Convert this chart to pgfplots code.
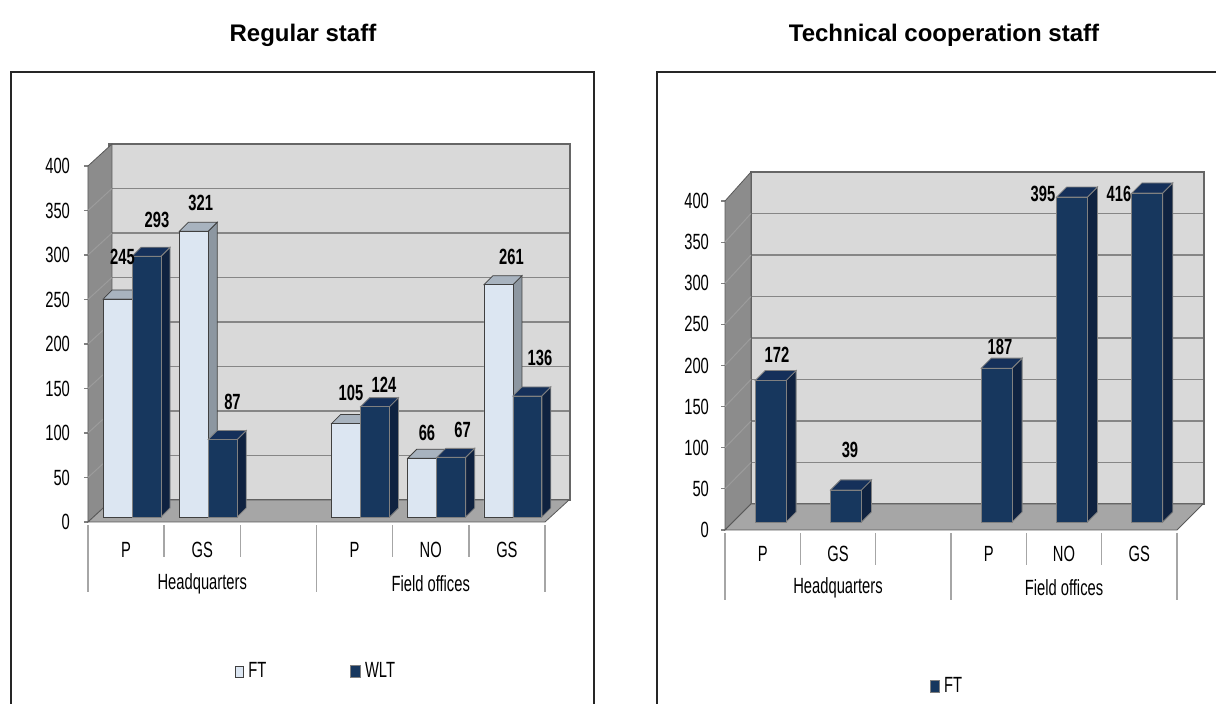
\documentclass[border=0pt]{standalone}
\usepackage{pgfplots}
\pgfplotsset{compat=1.18}
\usepackage{pgfplotstable}
\usepackage{fontspec}
\setmainfont{Liberation Sans}
\newfontfamily\cf{Liberation Sans}[FakeStretch=0.67]
\newcommand\cfont{\cf\fontsize{11}{13}\selectfont}

\definecolor{backwall}{HTML}{D9D9D9}
\definecolor{sidewall}{HTML}{8C8C8C}
\definecolor{floorc}{HTML}{A6A6A6}
\definecolor{gridc}{HTML}{868686}
\definecolor{sidegrid}{HTML}{9C9C9C}
\definecolor{ftfront}{HTML}{DCE6F2}
\definecolor{fttop}{HTML}{A8B3BF}
\definecolor{ftside}{HTML}{8D97A1}
\definecolor{wltfront}{HTML}{17375E}
\definecolor{wlttop}{HTML}{15305A}
\definecolor{wltside}{HTML}{0F2240}
\definecolor{sepc}{HTML}{A6A6A6}

\tikzset{
 FTside/.style={fill=ftside,draw=black!75,line width=0.4pt},
 FTtop/.style={fill=fttop,draw=black!75,line width=0.4pt},
 WLTside/.style={fill=wltside,draw=gray,line width=0.4pt},
 WLTtop/.style={fill=wlttop,draw=gray,line width=0.4pt},
 wall/.style={draw=gray!70!black,line width=0.4pt},
 sgrid/.style={draw=sidegrid,line width=0.5pt},
 sep/.style={draw=sepc,line width=0.7pt},
}

% ---------------- data ----------------
\pgfplotstableread{
x FT WLT
0 245 293
1 321 87
3 105 124
4 66 67
5 261 136
}\regular

\pgfplotstableread{
x y lab
-0.126 292 245
0.327 333.7 293
0.901 352.8 321
1.318 129.2 87
2.874 139.3 105
3.307 148.3 124
3.872 94.4 66
4.339 97.8 67
4.982 292.1 261
5.355 178.7 136
}\regularlabels

\pgfplotstableread{
x FT
0 172
1 39
3 187
4 395
5 416
}\technical

\pgfplotstableread{
x y lab
0.084 203 172
1.053 87.5 39
3.044 212.8 187
3.615 398.8 395
4.624 398.8 416
}\technicallabels

% side and top faces of the 3D bars, from the table values
\newcommand\barfaces[4]{% #1 table, #2 column, #3 left offset, #4 style prefix
 \pgfplotsforeachungrouped \r in {0,...,4}{%
  \pgfplotstablegetelem{\r}{x}\of#1\let\cx\pgfplotsretval
  \pgfplotstablegetelem{\r}{#2}\of#1\let\cv\pgfplotsretval
  \pgfmathsetmacro\xa{\cx+#3}%
  \pgfmathsetmacro\xb{\xa+\bw}%
  \pgfmathsetmacro\xc{\xb+\dxb}%
  \pgfmathsetmacro\xd{\xa+\dxb}%
  \pgfmathsetmacro\va{min(\cv,400)}%
  \pgfmathsetmacro\vt{\va+\dyb}%
  \edef\tmp{%
   \noexpand\addplot[#4side,forget plot] coordinates {(\xb,0) (\xc,\dyb) (\xc,\vt) (\xb,\va)} --cycle;
   \noexpand\addplot[#4top,forget plot] coordinates {(\xa,\va) (\xb,\va) (\xc,\vt) (\xd,\vt)} --cycle;}%
  \tmp}}

\begin{document}
\begin{tikzpicture}
\useasboundingbox (0,0) rectangle (608pt,352pt);
\clip (0,0) rectangle (608pt,352pt);

% frames and titles
\draw[black!85,line width=1pt] (5.5pt,-10pt) -- (5.5pt,316pt) -- (297pt,316pt) -- (297pt,-10pt);
\draw[black!85,line width=1pt] (328.5pt,-10pt) -- (328.5pt,316pt) -- (620pt,316pt);
\node[font=\bfseries\fontsize{12}{14}\selectfont] at (151.5pt,334.5pt) {Regular staff};
\node[font=\bfseries\fontsize{12}{14}\selectfont] at (472pt,334.5pt) {Technical cooperation staff};

% ================= LEFT PANEL =================
% back wall
\begin{axis}[at={(54.5pt,102pt)}, anchor=south west, scale only axis,
  width=230.5pt, height=178pt, xmin=0, xmax=1, ymin=0, ymax=400,
  xtick=\empty, ytick={50,100,...,350}, yticklabels={}, major tick length=0pt,
  ymajorgrids, grid style={draw=gridc, line width=0.9pt},
  axis background/.style={fill=backwall},
  axis line style={draw=gray!80!black, line width=0.7pt}]
\end{axis}

% front frame: side wall, floor, ticks, categories
\begin{axis}[at={(44pt,91pt)}, anchor=south west, scale only axis,
  width=228.5pt, height=178pt, xmin=-0.5, xmax=5.5, ymin=0, ymax=400, clip=false,
  axis lines*=left, axis line style={draw=none},
  ytick={0,50,...,400}, xtick={0,1,3,4,5}, xticklabels={P,GS,P,NO,GS},
  tick align=outside, major tick length=2pt,
  ytick style={draw=gray, line width=0.6pt}, xtick style={draw=none},
  tick label style={font=\cfont}, /pgf/number format/assume math mode=true,
  yticklabel style={xshift=-3.5pt},
  xticklabel style={anchor=center, yshift=-11.8pt}]
\addplot[wall, fill=sidewall] coordinates {(-0.5,0) (-0.185,24.7) (-0.185,424.7) (-0.5,400)} --cycle;
\addplot[wall, fill=floorc] coordinates {(-0.5,0) (5.5,0) (5.815,24.7) (-0.185,24.7)} --cycle;
\addplot[sgrid] coordinates {(-0.5,50) (-0.185,74.7)};
\addplot[sgrid] coordinates {(-0.5,100) (-0.185,124.7)};
\addplot[sgrid] coordinates {(-0.5,150) (-0.185,174.7)};
\addplot[sgrid] coordinates {(-0.5,200) (-0.185,224.7)};
\addplot[sgrid] coordinates {(-0.5,250) (-0.185,274.7)};
\addplot[sgrid] coordinates {(-0.5,300) (-0.185,324.7)};
\addplot[sgrid] coordinates {(-0.5,350) (-0.185,374.7)};
\addplot[sep] coordinates {(-0.5,-3.4) (-0.5,-78.7)};
\addplot[sep] coordinates {(0.5,-3.4) (0.5,-39.3)};
\addplot[sep] coordinates {(1.5,-3.4) (1.5,-39.3)};
\addplot[sep] coordinates {(2.5,-3.4) (2.5,-78.7)};
\addplot[sep] coordinates {(3.5,-3.4) (3.5,-39.3)};
\addplot[sep] coordinates {(4.5,-3.4) (4.5,-39.3)};
\addplot[sep] coordinates {(5.5,-3.4) (5.5,-78.7)};
\node[font=\cfont] at (axis cs:1,-69.5) {Headquarters};
\node[font=\cfont] at (axis cs:4,-69.5) {Field offices};
\end{axis}

% bars
\def\bw{0.38}\def\dxb{0.118}\def\dyb{10.1}
\begin{axis}[at={(47pt,93.5pt)}, anchor=south west, scale only axis,
  width=228.5pt, height=178pt, xmin=-0.5, xmax=5.5, ymin=0, ymax=400, clip=false,
  hide axis,
  legend columns=2,
  legend style={draw=none, fill=none, at={(0.488,-0.435)}, anchor=center,
    font=\cfont, /tikz/every even column/.append style={column sep=40pt}}]
\barfaces{\regular}{FT}{-0.38}{FT}
\addplot[ybar, bar width=0.38, bar shift=-0.19, fill=ftfront, draw=black!75, line width=0.4pt,
  legend image code/.code={\draw[fill=ftfront,draw=black!75,line width=0.4pt] (0pt,-2.75pt) rectangle (4.25pt,2.75pt);}]
  table[x=x, y expr={min(\thisrow{FT},400)}] {\regular};
\addlegendentry{FT}
\barfaces{\regular}{WLT}{0}{WLT}
\addplot[ybar, bar width=0.38, bar shift=0.19, fill=wltfront, draw=gray, line width=0.4pt,
  legend image code/.code={\draw[fill=wltfront,draw=gray,line width=0.4pt] (0pt,-3pt) rectangle (5pt,3pt);}]
  table[x=x, y expr={min(\thisrow{WLT},400)}] {\regular};
\addlegendentry{WLT}
\addplot[draw=none, forget plot, nodes near coords, point meta=explicit symbolic,
  every node near coord/.append style={font=\cfont\bfseries, anchor=center, inner sep=0pt}]
  table[x=x, y=y, meta=lab] {\regularlabels};
\end{axis}

% ================= RIGHT PANEL =================
\begin{axis}[at={(375.5pt,100pt)}, anchor=south west, scale only axis,
  width=226.5pt, height=166pt, xmin=0, xmax=1, ymin=0, ymax=400,
  xtick=\empty, ytick={50,100,...,350}, yticklabels={}, major tick length=0pt,
  ymajorgrids, grid style={draw=gridc, line width=0.9pt},
  axis background/.style={fill=backwall},
  axis line style={draw=gray!80!black, line width=0.7pt}]
\end{axis}

\begin{axis}[at={(362.5pt,87pt)}, anchor=south west, scale only axis,
  width=226pt, height=164.5pt, xmin=-0.5, xmax=5.5, ymin=0, ymax=400, clip=false,
  axis lines*=left, axis line style={draw=none},
  ytick={0,50,...,400}, xtick={0,1,3,4,5}, xticklabels={P,GS,P,NO,GS},
  tick align=outside, major tick length=2pt,
  ytick style={draw=gray, line width=0.6pt}, xtick style={draw=none},
  tick label style={font=\cfont}, /pgf/number format/assume math mode=true,
  yticklabel style={xshift=-2.5pt},
  xticklabel style={anchor=center, yshift=-9.8pt}]
\addplot[wall, fill=sidewall] coordinates {(-0.5,0) (-0.155,31.6) (-0.155,435.3) (-0.5,400)} --cycle;
\addplot[wall, fill=floorc] coordinates {(-0.5,0) (5.5,0) (5.845,31.6) (-0.155,31.6)} --cycle;
\addplot[sgrid] coordinates {(-0.5,50) (-0.155,82.1)};
\addplot[sgrid] coordinates {(-0.5,100) (-0.155,132.5)};
\addplot[sgrid] coordinates {(-0.5,150) (-0.155,183.0)};
\addplot[sgrid] coordinates {(-0.5,200) (-0.155,233.4)};
\addplot[sgrid] coordinates {(-0.5,250) (-0.155,283.9)};
\addplot[sgrid] coordinates {(-0.5,300) (-0.155,334.3)};
\addplot[sgrid] coordinates {(-0.5,350) (-0.155,384.8)};
\addplot[sep] coordinates {(-0.5,-3.6) (-0.5,-85.1)};
\addplot[sep] coordinates {(0.5,-3.6) (0.5,-42.6)};
\addplot[sep] coordinates {(1.5,-3.6) (1.5,-42.6)};
\addplot[sep] coordinates {(2.5,-3.6) (2.5,-85.1)};
\addplot[sep] coordinates {(3.5,-3.6) (3.5,-42.6)};
\addplot[sep] coordinates {(4.5,-3.6) (4.5,-42.6)};
\addplot[sep] coordinates {(5.5,-3.6) (5.5,-85.1)};
\node[font=\cfont] at (axis cs:1,-70.5) {Headquarters};
\node[font=\cfont] at (axis cs:4,-70.5) {Field offices};
\end{axis}

\def\bw{0.41}\def\dxb{0.133}\def\dyb{12.2}
\begin{axis}[at={(366.5pt,91pt)}, anchor=south west, scale only axis,
  width=226pt, height=164.5pt, xmin=-0.5, xmax=5.5, ymin=0, ymax=400, clip=false,
  hide axis,
  legend style={draw=none, fill=none, at={(0.476,-0.4985)}, anchor=center, font=\cfont}]
\barfaces{\technical}{FT}{-0.205}{WLT}
\addplot[ybar, bar width=0.41, bar shift=0, fill=wltfront, draw=gray, line width=0.4pt,
  legend image code/.code={\draw[fill=wltfront,draw=gray,line width=0.4pt] (0pt,-3pt) rectangle (4.5pt,3pt);}]
  table[x=x, y expr={min(\thisrow{FT},400)}] {\technical};
\addlegendentry{FT}
\addplot[draw=none, forget plot, nodes near coords, point meta=explicit symbolic,
  every node near coord/.append style={font=\cfont\bfseries, anchor=center, inner sep=0pt}]
  table[x=x, y=y, meta=lab] {\technicallabels};
\end{axis}
\end{tikzpicture}
\end{document}
